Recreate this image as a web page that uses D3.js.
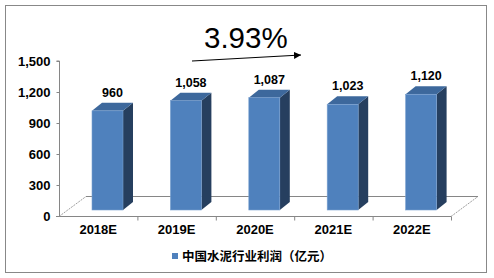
<!DOCTYPE html>
<html><head><meta charset="utf-8">
<script src="https://cdn.jsdelivr.net/npm/d3@7/dist/d3.min.js"></script>
<style>body{margin:0;background:#fff}svg{display:block}</style>
</head><body>
<script>
const categories = ["2018E","2019E","2020E","2021E","2022E"];
const values = [960, 1058, 1087, 1023, 1120];
const valueLabels = ["960","1,058","1,087","1,023","1,120"];
const yTicks = [0, 300, 600, 900, 1200, 1500];
const seriesName = "中国水泥行业利润（亿元）";
const growthLabel = "3.93%";

const W = 494, H = 278;
const svg = d3.select("body").append("svg").attr("width", W).attr("height", H);
svg.append("rect").attr("x",5.5).attr("y",5.5).attr("width",481).attr("height",267)
  .attr("fill","#fff").attr("stroke","#888").attr("stroke-width",1);

const x = d3.scaleBand().domain(categories).range([59, 451]);
const y = d3.scaleLinear().domain([0, 1500]).range([216, 61]);
const fmt = d3.format(",");

// floor depth
const fdx = 27, fdy = -20;
const gridColor = "#868686";
svg.append("line").attr("x1",59+fdx).attr("y1",y(0)+fdy+0.5).attr("x2",451+fdx).attr("y2",y(0)+fdy+0.5)
  .attr("stroke",gridColor).attr("stroke-width",1);
svg.append("line").attr("x1",59).attr("y1",y(0)+0.5).attr("x2",59+fdx).attr("y2",y(0)+fdy+0.5)
  .attr("stroke",gridColor).attr("stroke-width",0.8).attr("stroke-dasharray","2,1");
svg.append("line").attr("x1",451).attr("y1",y(0)+0.5).attr("x2",451+fdx).attr("y2",y(0)+fdy+0.5)
  .attr("stroke",gridColor).attr("stroke-width",0.8).attr("stroke-dasharray","2,1");

// bars
const bw = 31, bdx = 10, bdy = -8, sx = 9.3, sy = -6;
const g = svg.append("g");
categories.forEach((c, i) => {
  const v = values[i];
  const x0 = x(c) + x.bandwidth()/2 - bw/2 + sx;
  const x1 = x0 + bw;
  const yb = y(0) + sy, yt = y(v) + sy;
  g.append("path").attr("d", `M${x1},${yt}L${x1+bdx},${yt+bdy}L${x1+bdx},${yb+bdy}L${x1},${yb}Z`)
    .attr("fill","#263f5f");
  g.append("path").attr("d", `M${x0},${yt}L${x0+bdx},${yt+bdy}L${x1+bdx},${yt+bdy}L${x1},${yt}Z`)
    .attr("fill","#3d689c");
  g.append("rect").attr("x",x0).attr("y",yt).attr("width",bw).attr("height",yb-yt)
    .attr("fill","#4f81bd").attr("stroke","#7ba1d0").attr("stroke-width",0.6);
  g.append("text").attr("x",(x0+x1)/2+5).attr("y",yt+bdy-6)
    .attr("text-anchor","middle").attr("font-family","Liberation Sans, Arial, sans-serif")
    .attr("font-weight","bold").attr("font-size",12.5).attr("fill","#000").text(valueLabels[i]);
});

// y axis
const yAxis = svg.append("g").attr("transform","translate(59.5,0)")
  .call(d3.axisLeft(y).tickValues(yTicks).tickFormat(fmt).tickSize(3).tickPadding(6));
yAxis.select(".domain").attr("stroke",gridColor).attr("d",`M-3,${y(1500)}H0V${y(0)+1}`);
yAxis.selectAll(".tick line").attr("stroke",gridColor);
yAxis.selectAll("text").attr("font-family","Liberation Sans, Arial, sans-serif")
  .attr("font-weight","bold").attr("font-size",13).attr("fill","#000");

// x axis
const xAxis = svg.append("g").attr("transform",`translate(0,${y(0)+0.5})`)
  .call(d3.axisBottom(x).tickSize(0).tickPadding(8));
xAxis.select(".domain").attr("stroke",gridColor).attr("d",`M56,0H451`);
xAxis.selectAll("text").attr("font-family","Liberation Sans, Arial, sans-serif")
  .attr("font-weight","bold").attr("font-size",13).attr("fill","#000").attr("dy","0.71em");
const bounds = categories.slice(1).map(c => x(c)).concat([x.range()[1]]);
xAxis.selectAll(".btick").data(bounds).enter().append("line")
  .attr("x1",d=>d+0.5).attr("x2",d=>d+0.5).attr("y1",0).attr("y2",4).attr("stroke",gridColor);

// growth annotation
svg.append("defs").append("marker").attr("id","ah").attr("viewBox","0 0 10 10")
  .attr("refX",10).attr("refY",5).attr("markerWidth",7).attr("markerHeight",7)
  .attr("markerUnits","userSpaceOnUse").attr("orient","auto")
  .append("path").attr("d","M0,0L10,5L0,10Z").attr("fill","#000");
svg.append("line").attr("x1",192).attr("y1",61).attr("x2",301).attr("y2",55)
  .attr("stroke","#000").attr("stroke-width",1.2).attr("marker-end","url(#ah)");
svg.append("text").attr("x",204).attr("y",48).attr("font-family","Liberation Sans, Arial, sans-serif")
  .attr("font-size",29.5).attr("fill","#000").text(growthLabel);

// legend
svg.append("rect").attr("x",172).attr("y",253).attr("width",6).attr("height",6).attr("fill","#4f81bd");
svg.append("text").attr("x",182).attr("y",261).attr("font-family","Noto Sans CJK SC, sans-serif")
  .attr("font-weight","bold").attr("font-size",12.5).attr("fill","#000").text(seriesName);
</script>
</body></html>
